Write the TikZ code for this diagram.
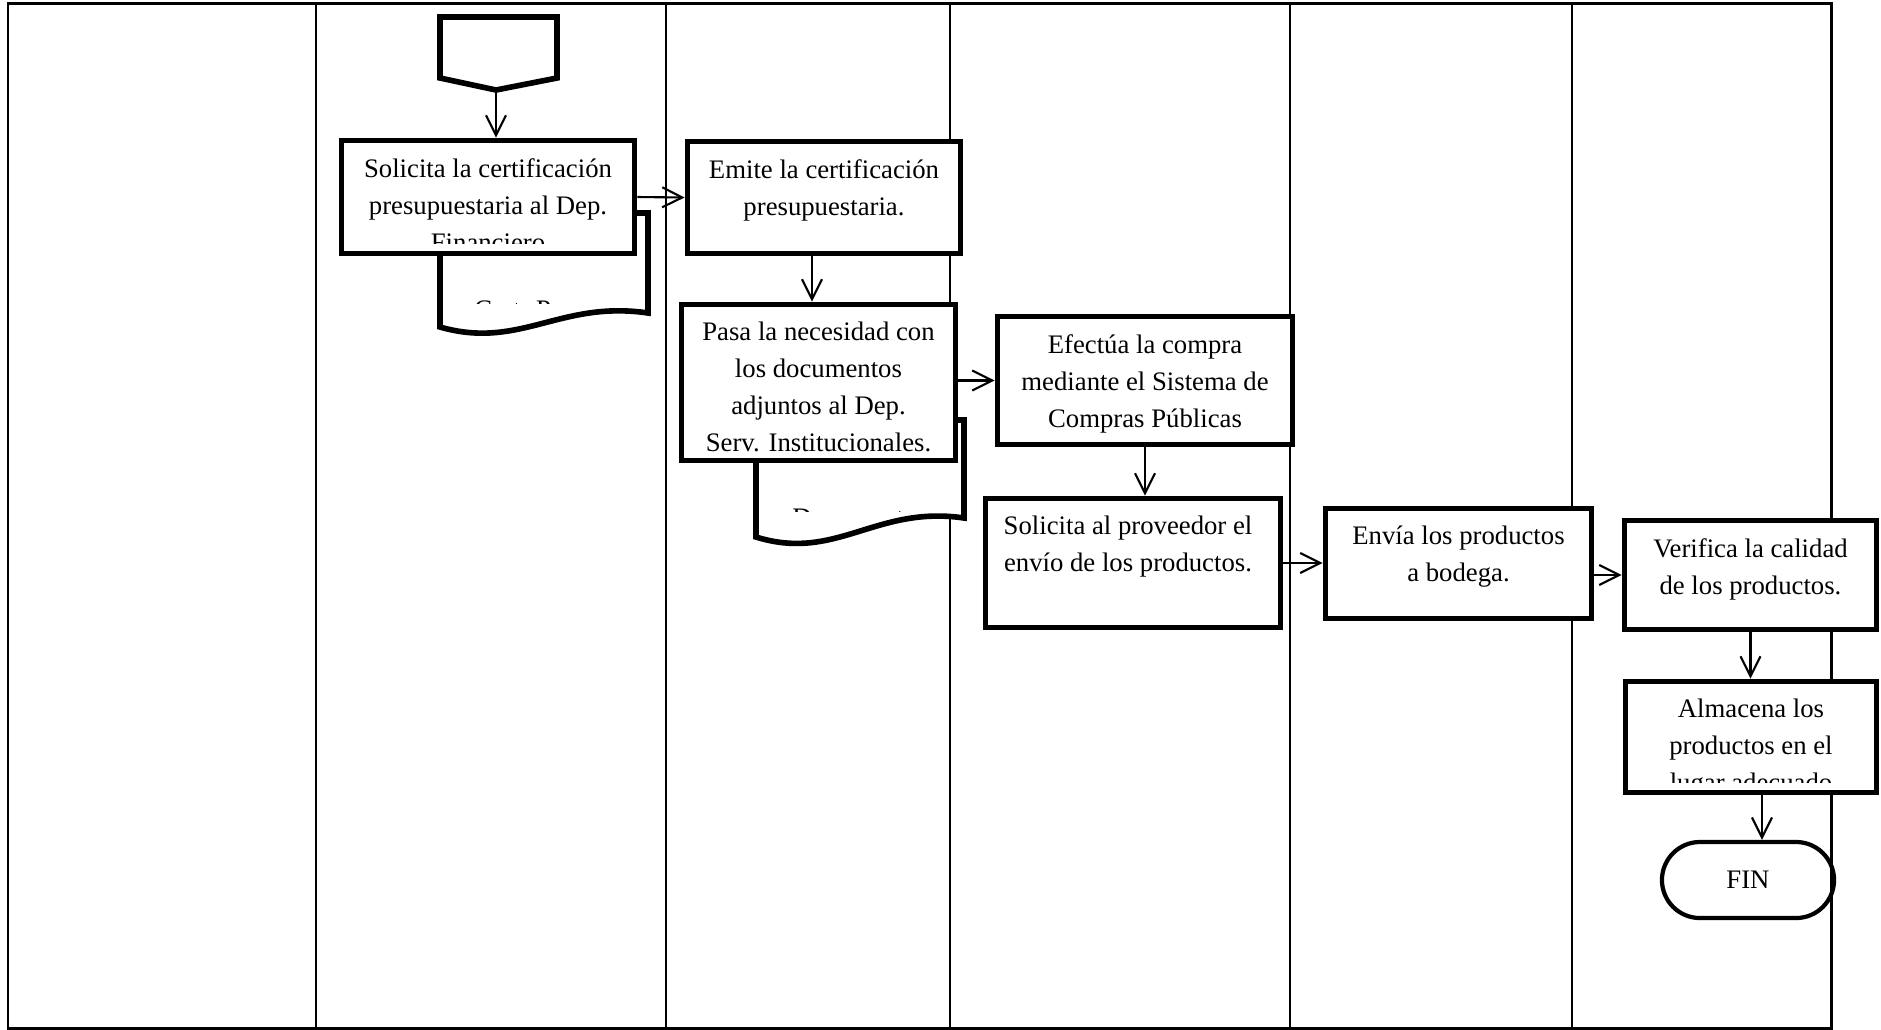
\documentclass[tikz,border=0pt]{standalone}
\usepackage{fontspec}
\setmainfont{Liberation Serif}
\usetikzlibrary{arrows.meta,calc,positioning}

\begin{document}
\begin{tikzpicture}[x=0.01cm,y=-0.01cm,
    caja/.style={draw,line width=1.6pt,fill=white,inner sep=0pt},
    texto/.style={anchor=north,align=center,inner sep=0pt,font=\fontsize{7.6}{10.5}\selectfont},
    flecha/.style={line width=0.6pt,-{Straight Barb[length=5.7pt,width=5.7pt]}},
    carril/.style={line width=0.57pt},
    docu/.style={draw,line width=1.6pt,fill=white}]

\useasboundingbox (0,0) rectangle (1881,1029);

% Lanes
\foreach \x in {316,666,950,1290,1572}
  \draw[carril] (\x,3) -- (\x,1028);
\draw[line width=0.85pt] (8,3) rectangle (1831,1028);

% Start connector
\draw[line width=1.6pt,fill=white] (440,17) -- (557,17) -- (557,78) -- (496,90) coordinate (ini) -- (440,78) -- cycle;

% Documents
\draw[docu] (440,213) -- (440,327) .. controls (520,350) and (560,300) .. (648,313) -- (648,213) -- cycle;
\begin{scope}
  \clip (440,213) rectangle (648,303);
  \node[texto,anchor=base] (d1) at (545,318) {Cert. Presup.};
\end{scope}

\draw[docu] (756,420) -- (756,537) .. controls (836,562) and (876,505) .. (964,518) -- (964,420) -- cycle;
\begin{scope}
  \clip (756,420) rectangle (964,511);
  \node[texto,anchor=base] (d2) at (860,526) {Documentos};
\end{scope}

% Boxes
\node[caja,minimum width=2.93cm,minimum height=1.13cm] (b1) at (488,197) {};
\begin{scope}
  \clip ([yshift=0.13cm]b1.south west) rectangle (b1.north east);
  \node[texto] (t1) at ([yshift=-0.2cm]b1.north) {Solicita la certificación\\presupuestaria al Dep.\\Financiero};
\end{scope}

\node[caja,minimum width=2.73cm,minimum height=1.12cm] (b2) at (824,197.5) {};
\node[texto] (t2) at ([yshift=-0.2cm]b2.north) {Emite la certificación\\presupuestaria.};

\node[caja,minimum width=2.74cm,minimum height=1.56cm] (b3) at (818.5,382.5) {};
\node[texto] (t3) at ([yshift=-0.2cm]b3.north) {Pasa la necesidad con\\los documentos\\adjuntos al Dep.\\Serv. Institucionales.};

\node[caja,minimum width=2.95cm,minimum height=1.28cm] (b4) at (1145,380.5) {};
\node[texto] (t4) at ([yshift=-0.2cm]b4.north) {Efectúa la compra\\mediante el Sistema de\\Compras Públicas};

\node[caja,minimum width=2.95cm,minimum height=1.29cm] (b5) at (1133,563) {};
\node[texto] (t5) at ([xshift=-0.05cm,yshift=-0.2cm]b5.north) {Solicita al proveedor el\\envío de los productos.};

\node[caja,minimum width=2.66cm,minimum height=1.10cm] (b6) at (1458.5,563.5) {};
\node[texto] (t6) at ([yshift=-0.2cm]b6.north) {Envía los productos\\a bodega.};

\node[caja,minimum width=2.52cm,minimum height=1.09cm] (b7) at (1750.5,575) {};
\node[texto] (t7) at ([yshift=-0.2cm]b7.north) {Verifica la calidad\\de los productos.};

\node[caja,minimum width=2.51cm,minimum height=1.11cm] (b8) at (1751,737) {};
\begin{scope}
  \clip ([yshift=0.13cm]b8.south west) rectangle (b8.north east);
  \node[texto] (t8) at ([yshift=-0.2cm]b8.north) {Almacena los\\productos en el\\lugar adecuado};
\end{scope}

% End
\node[draw,line width=1.2pt,minimum width=1.72cm,minimum height=0.76cm,rounded corners=0.38cm,
  font=\fontsize{7.6}{10.5}\selectfont] (fin) at (1748,880) {FIN};

% Connectors
\draw[flecha] (ini) -- (ini |- b1.north);
\draw[flecha] (b1.east) -- (b2.west);
\draw[flecha] ([xshift=-0.12cm]b2.south) -- ([xshift=-0.12cm]b2.south |- b3.north);
\draw[flecha] (b3.east |- b4.west) -- (b4.west);
\draw[flecha] (b4.south) -- (b4.south |- b5.north);
\draw[flecha] (b5.east) -- (b5.east -| b6.west);
\draw[flecha] (b6.east |- b7.west) -- (b7.west);
\draw[flecha] (b7.south) -- (b7.south |- b8.north);
\draw[flecha] ([xshift=0.11cm]b8.south) -- ([xshift=0.11cm]b8.south |- fin.north);

\end{tikzpicture}
\end{document}
